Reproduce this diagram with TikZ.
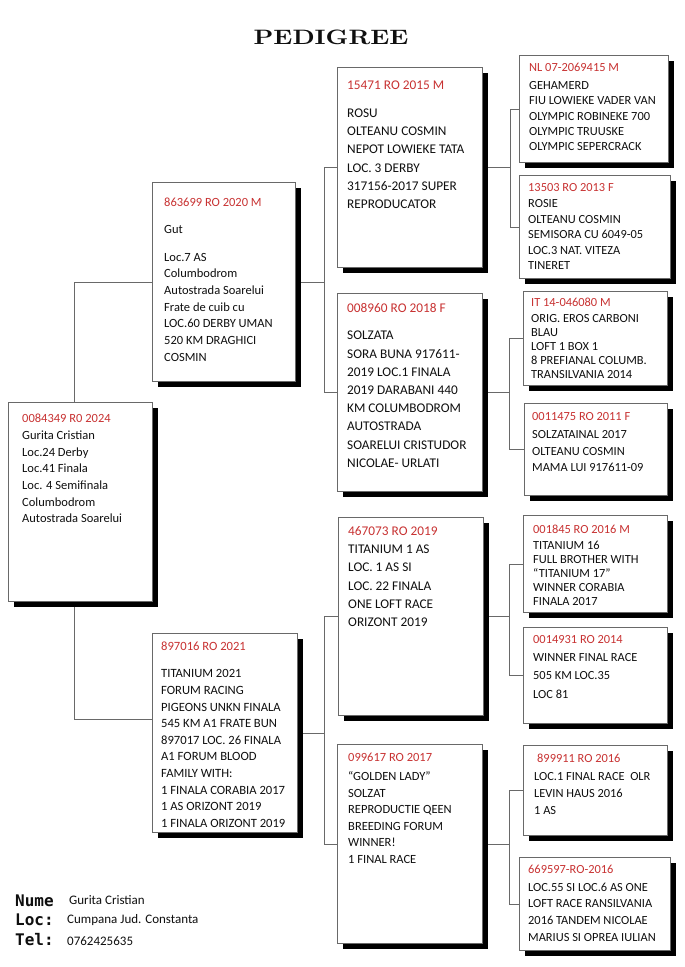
\documentclass[tikz,border=0pt]{standalone}
\usepackage{fontspec}
\usepackage{graphicx}
\newfontfamily\carl{Carlito}
\newfontfamily\monob{DejaVu Sans Mono}
\usetikzlibrary{shadows,backgrounds}
\definecolor{pred}{RGB}{200,50,50}
\definecolor{pline}{RGB}{105,105,105}
\definecolor{ptext}{RGB}{15,15,15}
\newcommand\redid[1]{\textcolor{pred}{#1}}
\begin{document}
\begin{tikzpicture}[x=1pt,y=-1pt,
  pbox/.style={draw=pline, line width=0.9pt, fill=white, inner sep=0pt, anchor=north west,
    drop shadow={shadow xshift=6pt, shadow yshift=-6pt, fill=black, opacity=1}},
  txt/.style 2 args={anchor=north west, inner sep=0pt, align=left, text=ptext,
    font=\carl\fontsize{#1}{#2}\selectfont},
  lab/.style={anchor=north west, inner sep=0pt, text=ptext, font=\monob\bfseries\fontsize{16}{18}\selectfont},
  conn/.style={draw=pline, line width=0.9pt},
  ttl/.style={anchor=base, inner sep=0pt, text=ptext, font=\fontsize{10}{12}\selectfont\bfseries}]
\useasboundingbox (0,0) rectangle (685,967);
\begin{pgfonlayer}{background}
\fill[white] (0,0) rectangle (685,967);
\end{pgfonlayer}

\node[ttl] (title) at (331,44) {\scalebox{2.52}[2.085]{PEDIGREE}};

% boxes
\node[pbox, minimum width=144pt, minimum height=199pt] (root) at (8,402) {};
\node[pbox, minimum width=143pt, minimum height=199pt] (g2a) at (152,182) {};
\node[pbox, minimum width=145pt, minimum height=199pt] (g2b) at (152,633) {};
\node[pbox, minimum width=145pt, minimum height=200pt] (g3a) at (337,67) {};
\node[pbox, minimum width=145pt, minimum height=198pt] (g3b) at (337,293) {};
\node[pbox, minimum width=145pt, minimum height=198pt] (g3c) at (338,517) {};
\node[pbox, minimum width=145pt, minimum height=199pt] (g3d) at (337,744) {};
\node[pbox, minimum width=149pt, minimum height=107pt] (g4a) at (519,55) {};
\node[pbox, minimum width=151pt, minimum height=103pt] (g4b) at (519,175) {};
\node[pbox, minimum width=144pt, minimum height=94pt] (g4c) at (523,291) {};
\node[pbox, minimum width=143pt, minimum height=92pt] (g4d) at (524,403) {};
\node[pbox, minimum width=144pt, minimum height=97pt] (g4e) at (523,515) {};
\node[pbox, minimum width=144pt, minimum height=96pt] (g4f) at (523,627) {};
\node[pbox, minimum width=144pt, minimum height=90pt] (g4g) at (523,745) {};
\node[pbox, minimum width=151pt, minimum height=93pt] (g4h) at (519,857) {};

% texts
\node[txt={12.5}{16.7}] (roott) at (22,414) {\redid{0084349 R0 2024}\\Gurita Cristian\\Loc.24 Derby\\Loc.41 Finala\\Loc. 4 Semifinala\\Columbodrom\\Autostrada Soarelui};
\node[txt={12.5}{16.7}] (g2at) at (164,198) {\redid{863699 RO 2020 M}\\[10.5pt]Gut\\[10.5pt]Loc.7 AS\\Columbodrom\\Autostrada Soarelui\\Frate de cuib cu\\LOC.60 DERBY UMAN\\520 KM DRAGHICI\\COSMIN};
\node[txt={12.6}{16.6}] (g2bt) at (161,642) {\redid{897016 RO 2021}\\[10.5pt]TITANIUM 2021\\FORUM RACING\\PIGEONS UNKN FINALA\\545 KM A1 FRATE BUN\\897017 LOC. 26 FINALA\\A1 FORUM BLOOD\\FAMILY WITH:\\1 FINALA CORABIA 2017\\1 AS ORIZONT 2019\\1 FINALA ORIZONT 2019};
\node[txt={13.3}{18.3}] (g3at) at (347,81) {\redid{15471 RO 2015 M}\\[9pt]ROSU\\OLTEANU COSMIN\\NEPOT LOWIEKE TATA\\LOC. 3 DERBY\\317156-2017 SUPER\\REPRODUCATOR};
\node[txt={13.3}{18.2}] (g3bt) at (347,303) {\redid{008960 RO 2018 F}\\[9.4pt]SOLZATA\\SORA BUNA 917611-\\2019 LOC.1 FINALA\\2019 DARABANI 440\\KM COLUMBODROM\\AUTOSTRADA\\SOARELUI CRISTUDOR\\NICOLAE- URLATI};
\node[txt={13.3}{18.3}] (g3ct) at (348,526) {\redid{467073 RO 2019}\\TITANIUM 1 AS\\LOC. 1 AS SI\\LOC. 22 FINALA\\ONE LOFT RACE\\ORIZONT 2019};
\node[txt={12.5}{16.5}] (g3dt) at (348,753) {\redid{099617 RO 2017}\\[2.5pt]“GOLDEN LADY”\\SOLZAT\\REPRODUCTIE QEEN\\BREEDING FORUM\\WINNER!\\1 FINAL RACE};
\node[txt={12.4}{15.4}] (g4at) at (529,63) {\redid{NL 07-2069415 M}\\[2.4pt]GEHAMERD\\FIU LOWIEKE VADER VAN\\OLYMPIC ROBINEKE 700\\OLYMPIC TRUUSKE\\OLYMPIC SEPERCRACK};
\node[txt={12.4}{15.4}] (g4bt) at (528,183) {\redid{13503 RO 2013 F}\\[1.3pt]ROSIE\\OLTEANU COSMIN\\SEMISORA CU 6049-05\\LOC.3 NAT. VITEZA\\TINERET};
\node[txt={12.4}{14}] (g4ct) at (531,298) {\redid{IT 14-046080 M}\\[2pt]ORIG. EROS CARBONI\\BLAU\\LOFT 1 BOX 1\\8 PREFIANAL COLUMB.\\TRANSILVANIA 2014};
\node[txt={12.4}{16.7}] (g4dt) at (532,412) {\redid{0011475 RO 2011 F}\\[1.6pt]SOLZATAINAL 2017\\OLTEANU COSMIN\\MAMA LUI 917611-09};
\node[txt={12.4}{14}] (g4et) at (533,525) {\redid{001845 RO 2016 M}\\[2pt]TITANIUM 16\\FULL BROTHER WITH\\“TITANIUM 17”\\WINNER CORABIA\\FINALA 2017};
\node[txt={12.4}{18.3}] (g4ft) at (533,635) {\redid{0014931 RO 2014}\\WINNER FINAL RACE\\505 KM LOC.35\\LOC 81};
\node[txt={12.4}{17.4}] (g4gt) at (534,754) {\kern3pt\redid{899911 RO 2016}\\LOC.1 FINAL RACE\ \ OLR\\LEVIN HAUS 2016\\1 AS};
\node[txt={12.4}{16.7}] (g4ht) at (528,865) {\redid{669597-RO-2016}\\[1pt]LOC.55 SI LOC.6 AS ONE\\LOFT RACE RANSILVANIA\\2016 TANDEM NICOLAE\\MARIUS SI OPREA IULIAN};

% footer
\node[lab] (fnume) at (15,895) {Nume};
\node[lab] (floc) at (15,914) {Loc:};
\node[lab] (ftel) at (15,933) {Tel:};
\node[txt={13}{16}] (fname) at (69,895) {Gurita Cristian};
\node[txt={13}{16}] (fplace) at (67,914) {Cumpana Jud. Constanta};
\node[txt={13}{16}] (fphone) at (67,937) {0762425635};

% connectors
\begin{pgfonlayer}{background}
\draw[conn] ([xshift=-6pt]root.north) |- (g2a.west);
\draw[conn] ([xshift=-6pt]root.south) |- ([yshift=14pt]g2b.west);
\draw[conn] (g2a.east) -- ++(29,0) coordinate (ja);
\draw[conn] (g3a.west) -| (ja) |- (g3b.west);
\draw[conn] (g2b.east) -- ++(27,0) coordinate (jb);
\draw[conn] (g3c.west) -| (jb) |- (g3d.west);
\draw[conn] (g3a.east) -- ++(28,0) coordinate (jc);
\draw[conn] (g4a.west) -| (jc) |- (g4b.west);
\draw[conn] (g3b.east) -- ++(27,0) coordinate (jd);
\draw[conn] (g4c.west) -| (jd) |- (g4d.west);
\draw[conn] (g3c.east) -- ++(26,0) coordinate (je);
\draw[conn] (g4e.west) -| (je) |- (g4f.west);
\draw[conn] (g3d.east) -- ++(27,0) coordinate (jf);
\draw[conn] (g4g.west) -| (jf) |- (g4h.west);
\end{pgfonlayer}
\end{tikzpicture}
\end{document}
